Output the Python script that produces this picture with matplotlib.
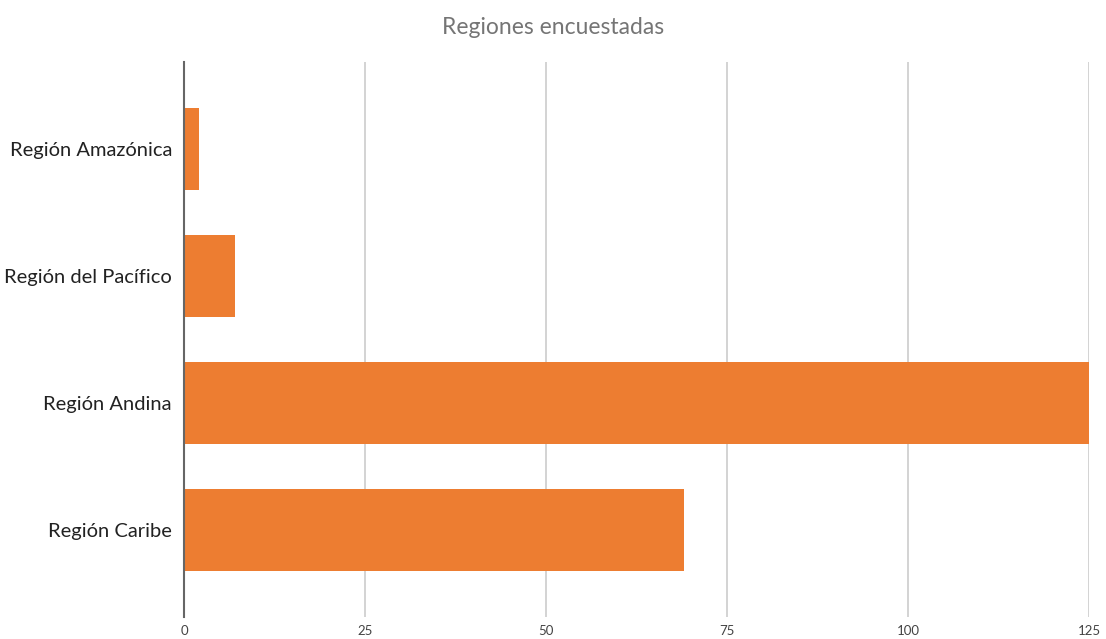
import matplotlib
matplotlib.use("Agg")
import matplotlib.pyplot as plt

# Data
regions = ["Región Caribe", "Región Andina", "Región del Pacífico", "Región Amazónica"]
counts = [69, 125, 7, 2]
xticks = [0, 25, 50, 75, 100, 125]

BAR_COLOR = "#ED7D31"

plt.rcParams["font.family"] = ["Lato", "DejaVu Sans"]

fig = plt.figure(figsize=(11.06, 6.39), dpi=100)
ax = fig.add_axes([0.1668, 0.0344, 0.8178, 0.8686])

ax.barh(range(len(regions)), counts, height=0.65, color=BAR_COLOR, zorder=3)

ax.set_xlim(0, 125)
ax.set_ylim(-0.685, len(regions) - 1 + 0.685)
ax.set_xticks(xticks)
ax.set_yticks(range(len(regions)))
ax.set_yticklabels(regions, fontsize=14.5, color="#222222")
ax.tick_params(axis="x", labelsize=9.5, colors="#444444", length=0, pad=6)
ax.tick_params(axis="y", length=0, pad=9)

# grid + spines
ax.grid(axis="x", color="#cccccc", linewidth=1.2, zorder=0)
for s in ["top", "right", "bottom"]:
    ax.spines[s].set_visible(False)
ax.spines["left"].set_color("#666666")
ax.spines["left"].set_linewidth(1.5)
ax.spines["left"].set_zorder(4)

fig.text(0.5, 0.957, "Regiones encuestadas", ha="center", va="center",
         fontsize=16.5, color="#757575")

fig.savefig("out.png", dpi=100)
